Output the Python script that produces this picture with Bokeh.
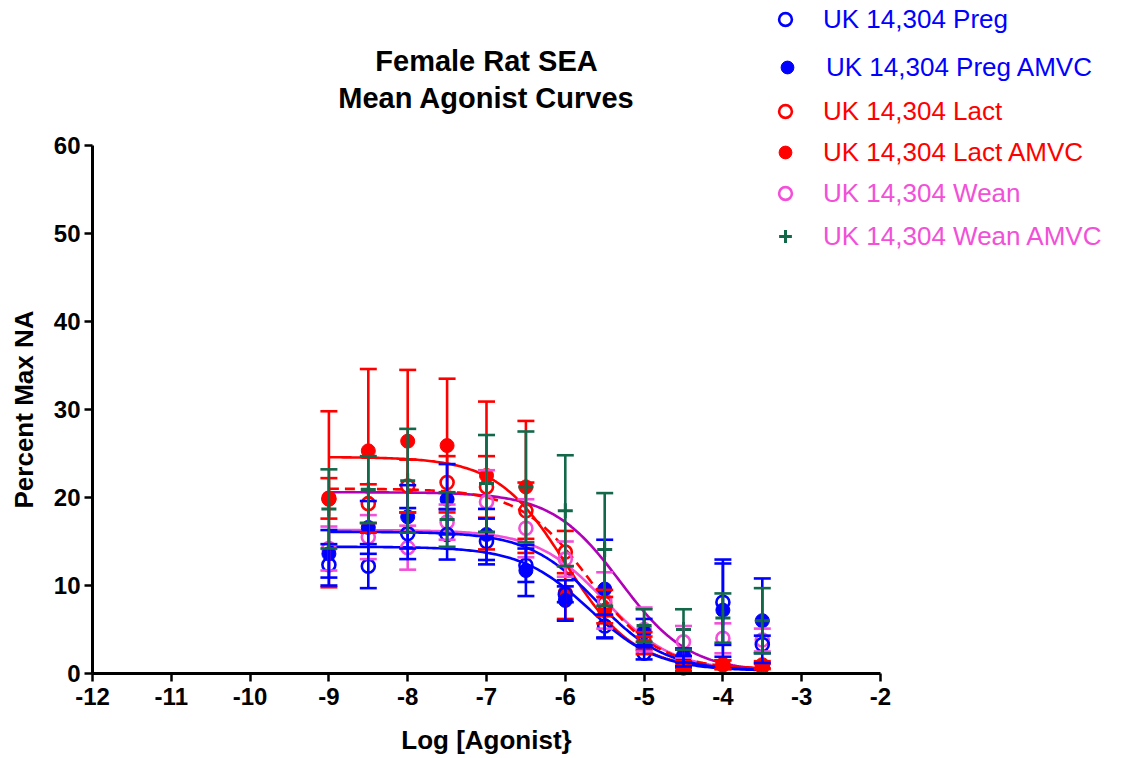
import numpy as np
from bokeh.plotting import figure
from bokeh.models import (ColumnDataSource, Whisker, TeeHead, Label, Legend, LegendItem,
                          FixedTicker, Range1d, PrintfTickFormatter)
from bokeh.embed import file_html
from bokeh.resources import INLINE

# ---------------- data ----------------
log_dose = [-9, -8.5, -8, -7.5, -7, -6.5, -6, -5.5, -5, -4.5, -4, -3.5]

preg_mean = [12.35, 12.2, 15.9, 15.8, 15.0, 12.3, 9.0, 5.4, 2.3, 1.4, 8.1, 3.3]
preg_sem = [2.35, 2.5, 2.9, 2.85, 2.6, 1.9, 0.9, 1.3, 0.7, 0.6, 4.85, 1.0]
preg_amvc_mean = [13.6, 16.6, 17.8, 19.8, 15.8, 11.7, 8.3, 9.6, 4.7, 2.05, 7.2, 6.0]
preg_amvc_sem = [2.7, 3.0, 3.6, 4.0, 2.9, 2.9, 2.3, 5.6, 1.5, 0.8, 5.3, 4.8]
lact_mean = [19.9, 19.3, 21.3, 21.7, 21.2, 18.5, 13.8, 8.0, 3.7, 1.0, 1.0, 0.8]
lact_sem = [2.3, 2.2, 3.0, 3.0, 3.5, 3.2, 2.4, 1.5, 1.0, 0.4, 0.5, 0.3]
lact_amvc_mean = [19.8, 25.3, 26.4, 25.9, 22.5, 21.2, 9.2, 7.2, 3.2, 0.6, 1.0, 1.0]
lact_amvc_sem = [10.0, 9.3, 8.1, 7.6, 8.4, 7.5, 3.0, 1.5, 1.0, 0.3, 0.5, 0.4]
wean_mean = [14.2, 15.5, 14.3, 17.2, 19.5, 16.5, 13.0, 8.3, 5.0, 3.6, 4.0, 3.8]
wean_sem = [2.5, 2.5, 2.5, 2.0, 3.6, 3.3, 2.0, 3.2, 2.5, 1.8, 1.7, 1.3]
wean_amvc_mean = [18.7, 20.9, 21.9, 17.5, 21.6, 21.2, 18.5, 14.1, 5.45, 5.0, 6.3, 6.0]
wean_amvc_sem = [4.5, 3.8, 5.9, 3.1, 5.5, 6.3, 6.3, 6.4, 1.85, 2.3, 2.8, 3.7]

# fitted sigmoid parameters (top, bottom, logEC50)
series_names = ["UK 14,304 Preg", "UK 14,304 Preg AMVC", "UK 14,304 Lact",
                "UK 14,304 Lact AMVC", "UK 14,304 Wean", "UK 14,304 Wean AMVC"]
curve_top = [14.4, 16.1, 21.0, 24.6, 16.3, 20.6]
curve_bottom = [0.3, 0.3, 0.5, 0.5, 0.3, 0.2]
curve_log_ec50 = [-5.7, -5.6, -5.7, -6.0, -5.5, -5.3]

x_ticks = [-12, -11, -10, -9, -8, -7, -6, -5, -4, -3, -2]
y_ticks = [0, 10, 20, 30, 40, 50, 60]
x_axis_bounds = (-12, -2)
y_axis_bounds = (0, 60)

BLUE = "#0000FF"
RED = "#FF0000"
PINK = "#F250D8"
GREEN = "#13684A"
PURPLE = "#B000B8"

FONT = "Liberation Sans"

W, H = 1125, 758
# pixel geometry of the axes box in the page
AX_LEFT, AX_RIGHT, AX_TOP, AX_BOTTOM = 92, 880, 145, 673
sx = (AX_RIGHT - AX_LEFT) / (x_axis_bounds[1] - x_axis_bounds[0])
sy = (AX_BOTTOM - AX_TOP) / (y_axis_bounds[1] - y_axis_bounds[0])
x_range = Range1d(x_axis_bounds[0] - AX_LEFT / sx, x_axis_bounds[0] + (W - AX_LEFT) / sx)
y_range = Range1d(y_axis_bounds[0] - (H - AX_BOTTOM) / sy, y_axis_bounds[0] + AX_BOTTOM / sy)

# ---------------- figure ----------------
p = figure(width=W, height=H, x_range=x_range, y_range=y_range,
           output_backend="svg", toolbar_location=None,
           min_border=0, min_border_left=0, min_border_right=0, min_border_top=0,
           min_border_bottom=0)
p.xgrid.visible = False
p.ygrid.visible = False
p.outline_line_color = None
p.background_fill_color = "white"
p.border_fill_color = "white"

for ax in (p.xaxis[0], p.yaxis[0]):
    ax.axis_line_width = 3
    ax.axis_line_color = "black"
    ax.major_tick_line_width = 2.5
    ax.major_tick_line_color = "black"
    ax.major_tick_out = 8
    ax.major_tick_in = 0
    ax.minor_tick_line_color = None
    ax.major_label_text_font = FONT
    ax.major_label_text_font_style = "bold"
    ax.major_label_text_font_size = "24px"
    ax.major_label_text_color = "black"
    ax.axis_label_text_font = FONT
    ax.axis_label_text_font_style = "bold"
    ax.axis_label_text_font_size = "26px"
    ax.axis_label_text_color = "black"
    ax.formatter = PrintfTickFormatter(format="%d")

p.xaxis.fixed_location = y_axis_bounds[0]
p.yaxis.fixed_location = x_axis_bounds[0]
p.xaxis.bounds = x_axis_bounds
p.yaxis.bounds = y_axis_bounds
p.xaxis.ticker = FixedTicker(ticks=x_ticks)
p.yaxis.ticker = FixedTicker(ticks=y_ticks)
p.xaxis.axis_label = "Log [Agonist}"
p.yaxis.axis_label = "Percent Max NA"
p.xaxis.major_label_standoff = 6
p.yaxis.major_label_standoff = 4
p.xaxis.axis_label_standoff = 17
p.yaxis.axis_label_standoff = 12

# ---------------- curves ----------------
xc = np.linspace(-9, -3.5, 221)
curve_color = [BLUE, BLUE, RED, RED, PINK, PURPLE]
curve_dash = ["solid", "solid", "10 6", "solid", "solid", "solid"]
curve_order = [4, 5, 2, 3, 1, 0]
for i in curve_order:
    yc = curve_bottom[i] + (curve_top[i] - curve_bottom[i]) / (1 + 10 ** (xc - curve_log_ec50[i]))
    p.line(xc, yc, line_color=curve_color[i], line_width=2.6, line_dash=curve_dash[i])

# ---------------- points + error bars ----------------
means = [preg_mean, preg_amvc_mean, lact_mean, lact_amvc_mean, wean_mean, wean_amvc_mean]
sems = [preg_sem, preg_amvc_sem, lact_sem, lact_amvc_sem, wean_sem, wean_amvc_sem]
pt_color = [BLUE, BLUE, RED, RED, PINK, GREEN]
pt_marker = ["circle", "circle", "circle", "circle", "circle", "cross"]
pt_filled = [False, True, False, True, False, True]

renderers = {}
draw_order = [3, 2, 4, 0, 1, 5]
for i in draw_order:
    m = means[i]
    s = sems[i]
    src = ColumnDataSource(dict(x=log_dose, y=m,
                                upper=[a + b for a, b in zip(m, s)],
                                lower=[a - b for a, b in zip(m, s)]))
    c = pt_color[i]
    w = Whisker(source=src, base="x", upper="upper", lower="lower", dimension="height",
                line_color=c, line_width=2.6, level="glyph",
                upper_head=TeeHead(size=17, line_color=c, line_width=2.6),
                lower_head=TeeHead(size=17, line_color=c, line_width=2.6))
    p.add_layout(w)
    if pt_marker[i] == "cross":
        r = p.scatter("x", "y", source=src, marker="cross", size=15, line_color=c, line_width=3)
    elif pt_filled[i]:
        r = p.scatter("x", "y", source=src, marker="circle", size=14, fill_color=c, line_color=c,
                      line_width=1)
    else:
        r = p.scatter("x", "y", source=src, marker="circle", size=13, fill_alpha=0, line_color=c,
                      line_width=2.6)
    renderers[i] = r

# ---------------- legend (one entry per row, each with its own text colour) ----------------
legend_text_color = [BLUE, BLUE, RED, RED, PINK, PINK]
legend_row_y = [19, 67, 111, 152, 193, 236]
legend_marker_x = [785, 787, 785, 785, 785, 785]
legend_text_x = [823, 826, 823, 823, 823, 823]
GLYPH = 32
for i in range(6):
    left = legend_marker_x[i] - GLYPH / 2
    leg = Legend(items=[LegendItem(label=series_names[i], renderers=[renderers[i]])],
                 location=(left, H - legend_row_y[i] - GLYPH / 2),
                 label_text_color=legend_text_color[i], label_text_font=FONT,
                 label_text_font_size="26px", label_standoff=int(legend_text_x[i] - left - GLYPH),
                 glyph_width=GLYPH, glyph_height=GLYPH, padding=0, margin=0, spacing=0,
                 background_fill_alpha=0, border_line_alpha=0, label_height=20)
    p.add_layout(leg)

# ---------------- title ----------------
def px_to_x(px):
    return x_range.start + px / sx

def py_to_y(py):
    return y_range.end - py / sy

for txt, py in [("Female Rat SEA", 60), ("Mean Agonist Curves", 97)]:
    p.add_layout(Label(x=px_to_x(486), y=py_to_y(py), text=txt, text_align="center",
                       text_baseline="middle", text_font=FONT, text_font_style="bold",
                       text_font_size="29px", text_color="black"))

open("out.html", "w").write(file_html(p, INLINE))
